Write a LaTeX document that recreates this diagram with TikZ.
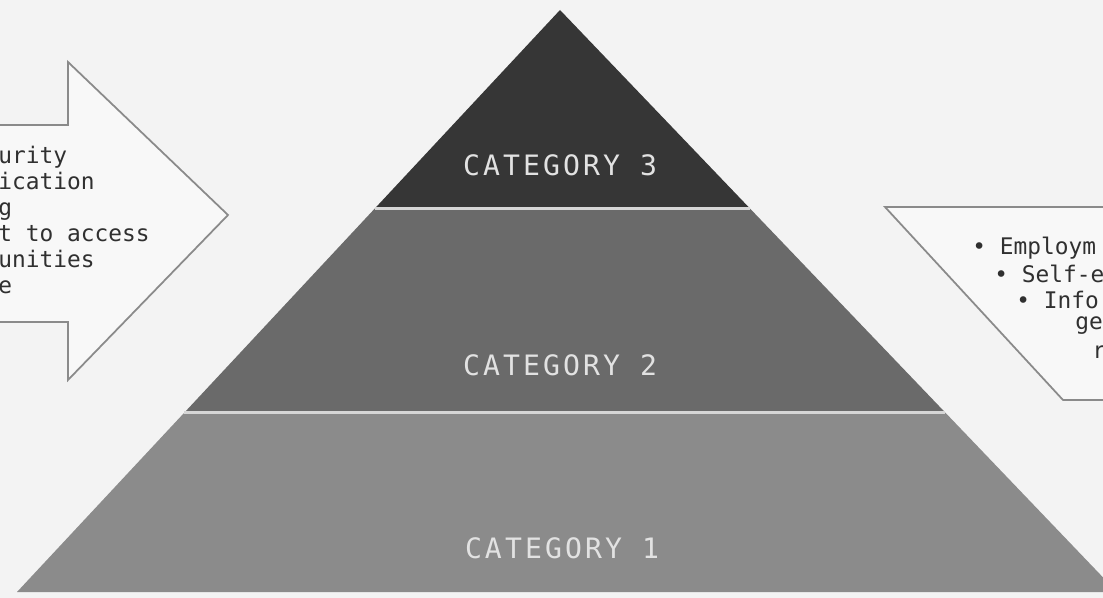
\documentclass[tikz,border=0pt]{standalone}
\usepackage{fontspec}
\usetikzlibrary{calc}
\newfontfamily\pixmono{DejaVu Sans Mono}
\newfontfamily\catmono[LetterSpace=11]{DejaVu Sans Mono}
\definecolor{paper}{HTML}{F3F3F3}
\definecolor{boxfill}{HTML}{F8F8F8}
\definecolor{boxline}{HTML}{8A8A8A}
\definecolor{tierthree}{HTML}{363636}
\definecolor{tiertwo}{HTML}{6A6A6A}
\definecolor{tierone}{HTML}{8B8B8B}
\definecolor{seam}{HTML}{D6D6D6}
\definecolor{ink}{HTML}{303030}

\begin{document}
\begin{tikzpicture}[
  x=0.02cm, y=-0.02cm,
  tier/.style     = {draw=none},
  seamline/.style = {draw=seam, line width=1.6pt},
  callout/.style  = {draw=boxline, fill=boxfill, line width=1pt, line join=miter},
  cat/.style      = {text=seam!70!white, font=\catmono\fontsize{16}{18}\selectfont,
                     inner sep=0pt},
  items/.style    = {text=ink, font=\pixmono\fontsize{13}{14.8}\selectfont,
                     inner sep=0pt, align=left},
]
  \useasboundingbox (0,0) rectangle (1103,598);
  \clip (0,0) rectangle (1103,598);
  \fill[paper] (0,0) rectangle (1103,598);

  % pyramid corners, the base runs past the right edge
  \coordinate (apex) at (560,10);
  \coordinate (bl) at (17,592);
  \coordinate (br) at (1117,592);
  \coordinate (l3) at ($(apex)!0.341!(bl)$);
  \coordinate (r3) at ($(apex)!0.341!(br)$);
  \coordinate (l2) at ($(apex)!0.6916!(bl)$);
  \coordinate (r2) at ($(apex)!0.6916!(br)$);

  \fill[tier,tierthree] (apex) -- (r3) -- (l3) -- cycle;
  \fill[tier,tiertwo] (l3) -- (r3) -- (r2) -- (l2) -- cycle;
  \fill[tier,tierone] (l2) -- (r2) -- (br) -- (bl) -- cycle;
  \draw[seamline] (l3) -- (r3);
  \draw[seamline] (l2) -- (r2);

  \node[cat] (cat3) at (560,165) {CATEGORY 3};
  \node[cat] (cat2) at (560,365) {CATEGORY 2};
  \node[cat] (cat1) at (562,548) {CATEGORY 1};

  % arrow coming in from the left
  \draw[callout] (-20,125) -- (68,125) -- (68,62) -- (228,215)
    -- (68,380) -- (68,322) -- (-20,322);
  \node[items, anchor=north west] (needs) at (-2,146)
    {urity\\ ication\\ g\\ t to access\\ unities\\ e};

  % outcome box on the right
  \draw[callout] (1130,207) -- (885,207) -- (1063,400) -- (1130,400);
  \node[items, anchor=west] (out1) at (972,248) {• Employm};
  \node[items, anchor=west] (out2) at (994,274) {• Self-e};
  \node[items, anchor=west] (out3) at (1016,300) {• Info};
  \node[items, anchor=west] (out4) at (1075,326) {ge};
  \node[items, anchor=west] (out5) at (1092,352) {r};
\end{tikzpicture}
\end{document}
